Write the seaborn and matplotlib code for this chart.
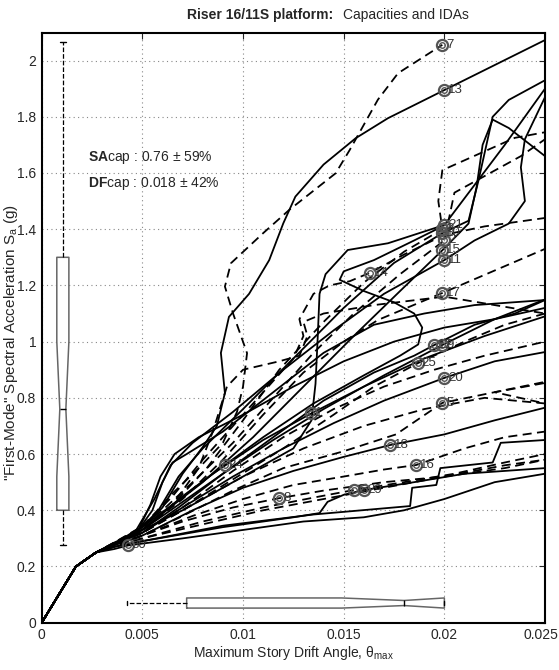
import numpy as np
import pandas as pd
import matplotlib
matplotlib.use("Agg")
import matplotlib.pyplot as plt
import seaborn as sns
from matplotlib import font_manager
from matplotlib.transforms import ScaledTranslation

# ---- data ---------------------------------------------------------------
# common elastic branch shared by every record (theta_max, Sa)
elastic = [(0.0, 0.0), (0.0017, 0.20), (0.0027, 0.25)]

rec01 = [(0.0036, 0.28), (0.0048, 0.33), (0.0065, 0.42), (0.0085, 0.53), (0.0110, 0.65),
         (0.0134, 0.745), (0.0160, 0.84), (0.0190, 0.94), (0.0220, 1.02), (0.0250, 1.09)]
rec02 = [(0.0036, 0.285), (0.0048, 0.335), (0.0060, 0.40), (0.0075, 0.50), (0.0095, 0.64),
         (0.0115, 0.80), (0.0135, 0.96), (0.0155, 1.10), (0.0178, 1.24), (0.0200, 1.36),
         (0.0205, 1.53), (0.0238, 1.66), (0.0250, 1.72)]
rec03 = [(0.0036, 0.28), (0.0050, 0.33), (0.0065, 0.42), (0.0082, 0.55), (0.0100, 0.72),
         (0.0118, 0.90), (0.0140, 1.07), (0.0160, 1.21), (0.0180, 1.32), (0.0199, 1.40),
         (0.0197, 1.50), (0.0199, 1.61), (0.0235, 1.725), (0.0250, 1.745)]
rec04 = [(0.0036, 0.27), (0.0050, 0.29), (0.0090, 0.345), (0.0135, 0.385), (0.0175, 0.41),
         (0.0183, 0.415), (0.0184, 0.48), (0.0196, 0.49), (0.0198, 0.55), (0.0224, 0.57),
         (0.0228, 0.64), (0.0250, 0.65)]
rec05 = [(0.0036, 0.275), (0.0050, 0.31), (0.0070, 0.38), (0.0095, 0.47), (0.0120, 0.55),
         (0.0150, 0.61), (0.0176, 0.67), (0.0199, 0.782), (0.0250, 0.857)]
rec06 = [(0.0036, 0.27), (0.0050, 0.30), (0.0080, 0.36), (0.0110, 0.41), (0.0135, 0.445),
         (0.0155, 0.472), (0.0180, 0.50), (0.0205, 0.53), (0.0230, 0.57), (0.0250, 0.60)]
rec07 = [(0.0036, 0.275), (0.0045, 0.31), (0.0055, 0.38), (0.0065, 0.46), (0.0078, 0.55),
         (0.0090, 0.64), (0.0097, 0.75), (0.0100, 0.84), (0.0102, 0.959), (0.0095, 1.101),
         (0.0091, 1.196), (0.0094, 1.279), (0.0110, 1.386), (0.0123, 1.469), (0.0146, 1.599),
         (0.0153, 1.682), (0.0167, 1.861), (0.0177, 1.955), (0.0189, 2.01), (0.0199, 2.056)]
rec08 = [(0.0036, 0.275), (0.0050, 0.31), (0.0070, 0.36), (0.0095, 0.41), (0.0118, 0.443),
         (0.0140, 0.47), (0.0170, 0.50), (0.0200, 0.52), (0.0230, 0.55), (0.0250, 0.58)]
rec09 = [(0.0036, 0.28), (0.0050, 0.33), (0.0070, 0.43), (0.0090, 0.53), (0.0115, 0.65),
         (0.0140, 0.76), (0.0170, 0.88), (0.0199, 0.988), (0.0225, 1.08), (0.0250, 1.15)]
rec10 = [(0.0036, 0.28), (0.0047, 0.32), (0.0058, 0.40), (0.0068, 0.52), (0.0080, 0.62),
         (0.0100, 0.76), (0.0125, 0.94), (0.0150, 1.12), (0.0175, 1.28), (0.0199, 1.386),
         (0.0212, 1.43), (0.0217, 1.575), (0.0224, 1.80), (0.0232, 1.86), (0.0250, 1.93)]
rec11 = [(0.0036, 0.28), (0.0047, 0.33), (0.0056, 0.44), (0.0064, 0.56), (0.0075, 0.64),
         (0.0095, 0.75), (0.0120, 0.90), (0.0145, 1.04), (0.0170, 1.17), (0.0200, 1.29),
         (0.0215, 1.36), (0.0232, 1.42), (0.0240, 1.50), (0.0238, 1.62), (0.0240, 1.72),
         (0.0246, 1.81), (0.0250, 1.87)]
rec12 = [(0.0036, 0.28), (0.0050, 0.32), (0.0068, 0.41), (0.0090, 0.53), (0.0115, 0.66),
         (0.0140, 0.79), (0.0165, 0.89), (0.0185, 0.95), (0.0195, 0.988), (0.0215, 1.06),
         (0.0235, 1.10), (0.0250, 1.148)]
rec13 = [(0.0040, 0.295), (0.0052, 0.35), (0.0060, 0.41), (0.0070, 0.53), (0.0080, 0.625),
         (0.0087, 0.70), (0.0091, 0.817), (0.0089, 0.96), (0.0093, 1.088), (0.0103, 1.17),
         (0.0113, 1.29), (0.0120, 1.421), (0.0126, 1.516), (0.0140, 1.63), (0.0156, 1.724),
         (0.0172, 1.795), (0.0200, 1.895), (0.0250, 2.073)]
rec14 = [(0.0036, 0.285), (0.0050, 0.34), (0.0065, 0.45), (0.0080, 0.58), (0.0095, 0.70),
         (0.0110, 0.82), (0.0125, 0.94), (0.0130, 1.02), (0.0128, 1.08), (0.0135, 1.17),
         (0.0143, 1.20), (0.0153, 1.215), (0.0163, 1.245), (0.0180, 1.31), (0.0200, 1.38),
         (0.0220, 1.41), (0.0250, 1.44)]
rec15 = [(0.0036, 0.28), (0.0048, 0.32), (0.0062, 0.40), (0.0080, 0.50), (0.0105, 0.66),
         (0.0130, 0.84), (0.0155, 1.02), (0.0178, 1.18), (0.0199, 1.325), (0.0212, 1.42),
         (0.0216, 1.55), (0.0219, 1.70), (0.0224, 1.79), (0.0232, 1.76), (0.0250, 1.66)]
rec16 = [(0.0036, 0.275), (0.0050, 0.31), (0.0075, 0.38), (0.0100, 0.44), (0.0125, 0.49),
         (0.0150, 0.52), (0.0170, 0.545), (0.0186, 0.561), (0.0210, 0.62), (0.0230, 0.66),
         (0.0250, 0.68)]
rec17 = [(0.0036, 0.28), (0.0050, 0.33), (0.0070, 0.44), (0.0090, 0.58), (0.0110, 0.74),
         (0.0130, 0.89), (0.0150, 1.00), (0.0167, 1.077), (0.0199, 1.173), (0.0250, 1.33)]
rec18 = [(0.0036, 0.275), (0.0050, 0.31), (0.0075, 0.40), (0.0100, 0.48), (0.0125, 0.54),
         (0.0150, 0.59), (0.0173, 0.632), (0.0200, 0.67), (0.0225, 0.72), (0.0250, 0.765)]
rec19 = [(0.0036, 0.28), (0.0050, 0.32), (0.0070, 0.41), (0.0095, 0.54), (0.0120, 0.66),
         (0.0145, 0.76), (0.0170, 0.84), (0.0195, 0.90), (0.0220, 0.95), (0.0250, 1.00)]
rec20 = [(0.0036, 0.28), (0.0050, 0.32), (0.0070, 0.41), (0.0095, 0.52), (0.0120, 0.62),
         (0.0145, 0.71), (0.0170, 0.79), (0.0200, 0.871), (0.0225, 0.93), (0.0250, 0.963)]
rec21 = [(0.0036, 0.285), (0.0050, 0.33), (0.0070, 0.40), (0.0100, 0.52), (0.0125, 0.62),
         (0.0134, 0.72), (0.0136, 0.85), (0.0137, 1.00), (0.0138, 1.17), (0.0141, 1.24),
         (0.0152, 1.326), (0.0172, 1.35), (0.0200, 1.415), (0.0230, 1.70), (0.0250, 1.90)]
rec22 = [(0.0036, 0.28), (0.0048, 0.33), (0.0055, 0.40), (0.0060, 0.50), (0.0065, 0.57),
         (0.0072, 0.60), (0.0090, 0.68), (0.0115, 0.82), (0.0140, 0.96), (0.0165, 1.06),
         (0.0190, 1.10), (0.0215, 1.13), (0.0250, 1.148)]
rec23 = [(0.0036, 0.28), (0.0050, 0.33), (0.0065, 0.42), (0.0078, 0.55), (0.0085, 0.68),
         (0.0092, 0.84), (0.0100, 0.90), (0.0118, 0.93), (0.0128, 0.95), (0.0132, 1.02),
         (0.0130, 1.07), (0.0140, 1.10), (0.0165, 1.13), (0.0200, 1.16), (0.0250, 1.10)]
rec24 = [(0.0036, 0.28), (0.0050, 0.33), (0.0070, 0.45), (0.0091, 0.561), (0.0110, 0.66),
         (0.0135, 0.78), (0.0160, 0.88), (0.0178, 0.95), (0.0187, 0.99), (0.0189, 1.05),
         (0.0185, 1.10), (0.0175, 1.14), (0.0160, 1.18), (0.0148, 1.22), (0.0150, 1.25),
         (0.0165, 1.29), (0.0185, 1.36), (0.0199, 1.41)]
rec25 = [(0.0036, 0.28), (0.0050, 0.32), (0.0070, 0.40), (0.0095, 0.51), (0.0120, 0.62),
         (0.0145, 0.74), (0.0165, 0.84), (0.0187, 0.924), (0.0210, 1.00), (0.0230, 1.06),
         (0.0250, 1.10)]
rec26 = [(0.0036, 0.28), (0.0048, 0.33), (0.0054, 0.42), (0.0059, 0.52), (0.0066, 0.60),
         (0.0078, 0.66), (0.0100, 0.74), (0.0125, 0.84), (0.0150, 0.93), (0.0175, 1.00),
         (0.0200, 1.05), (0.0225, 1.08), (0.0250, 1.12)]
rec27 = [(0.0036, 0.28), (0.0050, 0.32), (0.0075, 0.42), (0.0100, 0.52), (0.0130, 0.62),
         (0.0160, 0.70), (0.0190, 0.76), (0.0220, 0.80), (0.0250, 0.78), (0.0225, 0.82),
         (0.0250, 0.853)]
rec28 = [(0.0036, 0.275), (0.0050, 0.30), (0.0080, 0.35), (0.0110, 0.40), (0.0140, 0.44),
         (0.0170, 0.48), (0.0200, 0.52), (0.0230, 0.56), (0.0250, 0.58)]
rec29 = [(0.0036, 0.27), (0.0050, 0.29), (0.0090, 0.34), (0.0125, 0.375), (0.0138, 0.39),
         (0.0142, 0.43), (0.0150, 0.455), (0.0160, 0.472), (0.0185, 0.50), (0.0210, 0.53),
         (0.0250, 0.55)]
rec30 = [(0.0036, 0.262), (0.0043, 0.275), (0.0070, 0.30), (0.0100, 0.33), (0.0130, 0.36),
         (0.0160, 0.375), (0.0180, 0.40), (0.0200, 0.44), (0.0225, 0.50), (0.0250, 0.53)]

records = [rec01, rec02, rec03, rec04, rec05, rec06, rec07, rec08, rec09, rec10,
           rec11, rec12, rec13, rec14, rec15, rec16, rec17, rec18, rec19, rec20,
           rec21, rec22, rec23, rec24, rec25, rec26, rec27, rec28, rec29, rec30]
dashed_records = [2, 3, 5, 6, 7, 8, 14, 16, 17, 19, 23, 25, 27, 28]

# capacity points marked with circles
cap_labels = ['7', '13', '21', '3', '10', '2', '15', '11', '14', '17', '12', '9',
              '25', '20', '5', '1', '18', '16', '24', '6', '29', '8', '30']
cap_theta = [0.0199, 0.0200, 0.0200, 0.0199, 0.0199, 0.0200, 0.0199, 0.0200, 0.0163,
             0.0199, 0.0195, 0.0199, 0.0187, 0.0200, 0.0199, 0.0134, 0.0173, 0.0186,
             0.0091, 0.0155, 0.0160, 0.0118, 0.0043]
cap_sa = [2.056, 1.895, 1.415, 1.40, 1.386, 1.36, 1.325, 1.29, 1.245, 1.173, 0.988,
          0.988, 0.924, 0.871, 0.782, 0.745, 0.632, 0.561, 0.561, 0.472, 0.472, 0.443,
          0.275]

# notched box summaries of the capacities
sa_box = dict(whislo=0.275, q1=0.40, med=0.76, q3=1.30, whishi=2.065, cilo=0.52, cihi=1.00)
df_box = dict(whislo=0.00425, q1=0.0072, med=0.018, q3=0.020, whishi=0.020, cilo=0.0149, cihi=0.020)

x_ticks = [0, 0.005, 0.01, 0.015, 0.02, 0.025]
x_ticklabels = ['0', '0.005', '0.01', '0.015', '0.02', '0.025']
y_ticks = [0, 0.2, 0.4, 0.6, 0.8, 1.0, 1.2, 1.4, 1.6, 1.8, 2.0]
y_ticklabels = ['0', '0.2', '0.4', '0.6', '0.8', '1', '1.2', '1.4', '1.6', '1.8', '2']

# ---- style ----------------------------------------------------------------
sns.set_style("white")
names = {f.name for f in font_manager.fontManager.ttflist}
base_font = 'Liberation Sans Narrow' if 'Liberation Sans Narrow' in names else 'Liberation Sans'
plt.rcParams['font.family'] = [base_font, 'DejaVu Sans']
plt.rcParams['mathtext.fontset'] = 'custom'
plt.rcParams['mathtext.rm'] = base_font
plt.rcParams['mathtext.it'] = base_font + ':italic'
plt.rcParams['mathtext.bf'] = base_font + ':bold'

rows = []
for num, pts in enumerate(records, start=1):
    kind = 'dashed' if num in dashed_records else 'solid'
    for th, sa in elastic + pts:
        rows.append((num, th, sa, kind))
ida = pd.DataFrame(rows, columns=['record', 'theta', 'sa', 'kind'])

fig = plt.figure(figsize=(5.59, 6.70), dpi=100)
ax = fig.add_axes([0.0746, 0.0706, 0.9004, 0.8797])

sns.lineplot(data=ida, x='theta', y='sa', units='record', estimator=None, sort=False,
             style='kind', dashes={'solid': '', 'dashed': (5, 3)}, color='black',
             linewidth=1.3, legend=False, ax=ax)

# capacity circles + record labels
ax.plot(cap_theta, cap_sa, linestyle='none', marker='o', markersize=8,
        markerfacecolor='none', markeredgecolor='#555555', markeredgewidth=1.6, zorder=4)
ax.plot(cap_theta, cap_sa, linestyle='none', marker='o', markersize=4,
        markerfacecolor='none', markeredgecolor='#555555', markeredgewidth=1.0, zorder=4)
for lab, th, sa in zip(cap_labels, cap_theta, cap_sa):
    ax.text(th + 0.00018, sa, lab, fontsize=9.5, color='#333333', ha='left', va='center', zorder=5)

# notched boxes
box_style = dict(shownotches=True, manage_ticks=False, patch_artist=False,
                 boxprops=dict(color='#666666', linewidth=1.1),
                 whiskerprops=dict(color='black', linestyle='--', linewidth=0.9),
                 capprops=dict(color='black', linewidth=1.0),
                 medianprops=dict(color='black', linewidth=1.0))
ax.bxp([dict(sa_box, fliers=[])], positions=[0.00105], widths=0.0006,
       capwidths=0.0003, **box_style)
ax.bxp([dict(df_box, fliers=[])], positions=[0.07], widths=0.036,
       capwidths=0.012, orientation='horizontal', **box_style)

ax.text(0.0023, 1.654, r'$\mathbf{SA}$cap : 0.76 ± 59%', fontsize=10, va='center')
ax.text(0.0023, 1.561, r'$\mathbf{DF}$cap : 0.018 ± 42%', fontsize=10, va='center')

ax.set_xlim(0, 0.025)
ax.set_ylim(0, 2.097)
ax.set_xticks(x_ticks)
ax.set_xticklabels(x_ticklabels)
ax.set_yticks(y_ticks)
ax.set_yticklabels(y_ticklabels)
ax.tick_params(direction='in', top=True, right=True, length=4, labelsize=10, pad=4)
ax.grid(True, linestyle=(0, (1, 3)), color='#888888', linewidth=0.8)
for sp in ax.spines.values():
    sp.set_linewidth(1.5)
    sp.set_color('black')

# keep the last x tick label inside the canvas
last = ax.get_xticklabels()[-1]
last.set_transform(last.get_transform() + ScaledTranslation(-4.5 / 100, 0, fig.dpi_scale_trans))

ax.set_xlabel(r'Maximum Story Drift Angle, θ$_{\rm max}$', fontsize=10, labelpad=1)
ax.set_ylabel('"First-Mode" Spectral Acceleration S$_{\\rm a}$ (g)', fontsize=11)
ax.yaxis.set_label_coords(-0.044, 0.475)

fig.text(0.596, 0.978, 'Riser 16/11S platform:', fontsize=10, fontweight='bold',
         ha='right', va='center')
fig.text(0.614, 0.978, 'Capacities and IDAs', fontsize=10, ha='left', va='center')

fig.savefig('out.png', dpi=100)
